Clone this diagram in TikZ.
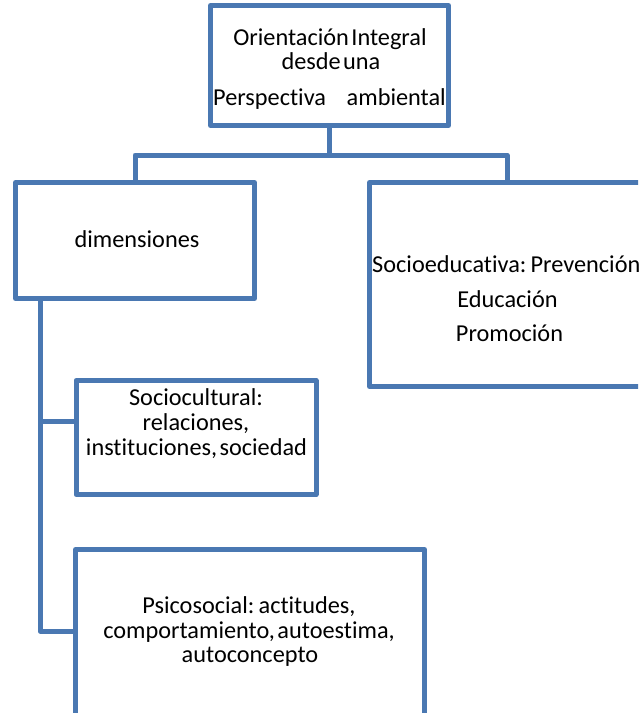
\documentclass[tikz,border=0pt]{standalone}
\usepackage{fontspec}
\setmainfont{Carlito}[Ligatures=NoCommon]
\definecolor{boxblue}{HTML}{4A78B2}
\newcommand{\mytxtfont}{\fontsize{24.3}{28}\selectfont\spaceskip=2.4pt plus 1pt\relax}
\begin{document}
\begin{tikzpicture}[x=1pt,y=-1pt,
  box/.style={draw=boxblue,line width=5pt,fill=white,rectangle,inner sep=0pt,line join=round},
  conn/.style={draw=boxblue,line width=5pt,line join=round},
  txt/.style={inner sep=0pt,anchor=base,font=\mytxtfont}]
\useasboundingbox (0,0) rectangle (638,713);
\clip (0,0) rectangle (638,713);
% connectors
\coordinate (bar) at (329.5,155);
\coordinate (barL) at (135,155);
\coordinate (barR) at (507,155);
\coordinate (v0) at (40,298.5);
\coordinate (v1) at (40,421);
\coordinate (v2) at (40,631);
% boxes
\node[box,minimum width=238pt,minimum height=120pt] (top) at (329.5,65.5) {};
\node[box,minimum width=239pt,minimum height=116pt] (dims) at (135,240.5) {};
\node[box,minimum width=310pt,minimum height=204pt] (right) at (524.5,284.5) {};
\node[box,minimum width=240pt,minimum height=114pt] (socio) at (196,437.5) {};
\node[box,minimum width=349pt,minimum height=210pt] (psico) at (250,654.5) {};
\draw[conn] (top.south) -- (bar);
\draw[conn] (dims.north) -- (barL) -- (barR) -- (barR |- right.north);
\draw[conn] (v0) -- (v2) -- (v2 -| psico.west);
\draw[conn] (v1) -- (v1 -| socio.west);
% texts
\node[txt] (t1) at (330,45) {Orientación Integral};
\node[txt] (t2) at (331,69) {desde una};
\node[txt,anchor=base west] (t3) at (213,105) {Perspectiva};
\node[txt,anchor=base east] (t4) at (446,105) {ambiental};
\node[txt] (d1) at (137,247) {dimensiones};
\node[txt,anchor=base west] (r1) at (372,272) {Socioeducativa: Prevención};
\node[txt] (r2) at (507.5,307) {Educación};
\node[txt] (r3) at (509.5,341) {Promoción};
\node[txt] (s1) at (196,405) {Sociocultural:};
\node[txt] (s2) at (196,430) {relaciones,};
\node[txt] (s3) at (196.5,455) {instituciones, sociedad};
\node[txt] (p1) at (249,613) {Psicosocial: actitudes,};
\node[txt] (p2) at (249,638) {comportamiento, autoestima,};
\node[txt] (p3) at (250,662) {autoconcepto};
\end{tikzpicture}
\end{document}
